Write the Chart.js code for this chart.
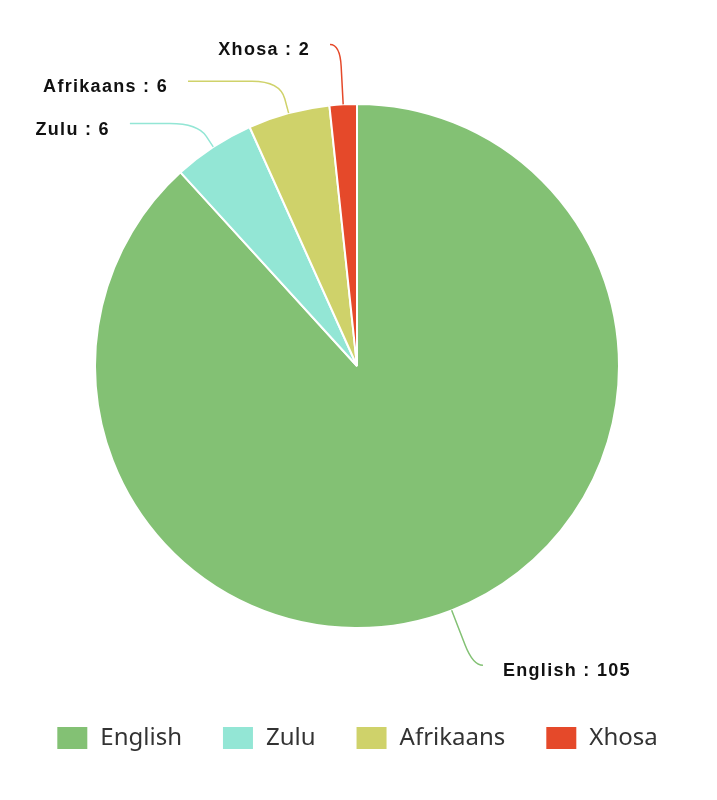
<!DOCTYPE html>
<html>
<head>
<meta charset="utf-8">
<script src="https://cdn.jsdelivr.net/npm/chart.js@4.4.1/dist/chart.umd.min.js"></script>
<style>
  html, body { margin: 0; padding: 0; background: #fff; }
  #wrap { width: 717px; height: 800px; position: relative; }
</style>
</head>
<body>
<div id="wrap"><canvas id="chart"></canvas></div>
<script>
// data
const languages = ['English', 'Zulu', 'Afrikaans', 'Xhosa'];
const counts = [105, 6, 6, 2];
const sliceColors = ['#83c174', '#93e6d5', '#cfd26a', '#e5492a'];

// connector layout per label: how far out the line goes, then the horizontal run
const connectorOut = [59, 28, 33, 60];
const connectorRun = [10, 68, 92, 10];

const pieLabels = {
    id: 'pieLabels',
    afterDatasetsDraw(chart) {
        const ctx = chart.ctx;
        const meta = chart.getDatasetMeta(0);
        ctx.save();
        meta.data.forEach((arc, i) => {
            const p = arc.getProps(['x', 'y', 'startAngle', 'endAngle', 'outerRadius'], true);
            const mid = (p.startAngle + p.endAngle) / 2;
            const dx = Math.cos(mid), dy = Math.sin(mid);
            const R = p.outerRadius;
            const ext = connectorOut[i];
            const side = dx >= 0 ? 1 : -1;
            const edge = { x: p.x + dx * R, y: p.y + dy * R };
            const bend = { x: p.x + dx * (R + ext), y: p.y + dy * (R + ext) };
            const end = { x: bend.x + side * connectorRun[i], y: bend.y };
            const before = Math.min(ext * 0.55, 22);
            const after = Math.min(connectorRun[i], 28);

            ctx.beginPath();
            ctx.strokeStyle = sliceColors[i];
            ctx.lineWidth = 1.5;
            ctx.moveTo(edge.x, edge.y);
            ctx.lineTo(bend.x - dx * before, bend.y - dy * before);
            ctx.quadraticCurveTo(bend.x, bend.y, bend.x + side * after, bend.y);
            ctx.lineTo(end.x, end.y);
            ctx.stroke();

            ctx.fillStyle = '#111';
            ctx.font = 'bold 18px "Liberation Sans", Arial, sans-serif';
            ctx.letterSpacing = '1.3px';
            ctx.textAlign = side > 0 ? 'left' : 'right';
            ctx.textBaseline = 'alphabetic';
            ctx.fillText(languages[i] + ' : ' + counts[i], end.x + side * 20, end.y + 11);
        });
        ctx.restore();
    }
};

new Chart(document.getElementById('chart'), {
    type: 'pie',
    data: {
        labels: languages,
        datasets: [{
            data: counts,
            backgroundColor: sliceColors,
            borderColor: '#ffffff',
            borderWidth: 2,
            hoverOffset: 0,
            radius: 262
        }]
    },
    options: {
        responsive: true,
        maintainAspectRatio: false,
        animation: false,
        layout: { padding: { top: 46, left: 0, right: 3, bottom: 40 } },
        plugins: {
            tooltip: { enabled: false },
            legend: {
                position: 'bottom',
                labels: {
                    boxWidth: 32,
                    boxHeight: 24,
                    padding: 40,
                    color: '#333333',
                    font: { family: '"Noto Sans", sans-serif', size: 24 }
                }
            }
        }
    },
    plugins: [pieLabels]
});
</script>
</body>
</html>
